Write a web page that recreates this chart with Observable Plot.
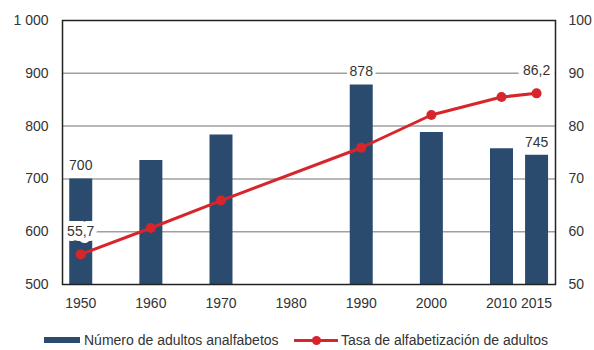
<!DOCTYPE html>
<html>
<head>
<meta charset="utf-8">
<script src="https://cdn.jsdelivr.net/npm/d3@7"></script>
<script src="https://cdn.jsdelivr.net/npm/@observablehq/plot@0.6"></script>
<style>
  body { margin: 0; background: #fff; font-family: "Liberation Sans", Arial, sans-serif; }
  #wrap { width: 594px; }
  #legend { position: relative; width: 594px; height: 35px; font-size: 14px; color: #333; }
  #legend .sw { position: absolute; }
  #legend .tx { position: absolute; top: 16px; line-height: 18px; white-space: nowrap; }
</style>
</head>
<body>
<div id="wrap">
  <div id="chart"></div>
  <div id="legend">
    <div class="sw" style="left:44px;top:22px;width:36px;height:6px;background:#2b4b6e"></div>
    <div class="tx" style="left:84px">Número de adultos analfabetos</div>
    <div class="sw" style="left:294px;top:23.5px;width:44px;height:3px;background:#d7262b"></div>
    <div class="sw" style="left:311.5px;top:20.5px;width:9px;height:9px;border-radius:50%;background:#d7262b"></div>
    <div class="tx" style="left:341px">Tasa de alfabetización de adultos</div>
  </div>
</div>
<script>
const tickYears = [1950, 1960, 1970, 1980, 1990, 2000, 2010, 2015];
const dataYears = [1950, 1960, 1970, 1990, 2000, 2010, 2015];
const illiterate = [700, 735, 783, 878, 788, 757, 745];   // millones
const literacyRate = [55.7, 60.7, 65.9, 75.9, 82.1, 85.5, 86.2]; // %
const leftTicks = [500, 600, 700, 800, 900, 1000];
const gridValues = [600, 700, 800, 900];
const barLabelYears = [1950, 1990, 2015];
const rateLabelYears = [1950, 2015];

const bars = dataYears.map((year, i) => ({year, value: illiterate[i]}));
const rates = dataYears.map((year, i) => ({year, rate: literacyRate[i], scaled: literacyRate[i] * 10}));
const barLabels = bars.filter(d => barLabelYears.includes(d.year));
const rateLabels = rates.filter(d => rateLabelYears.includes(d.year));

const barColor = "#2b4b6e";
const red = "#d7262b";
const txt = "#333";
const fmtLeft = d => d >= 1000 ? d3.format(",")(d).replace(",", " ") : String(d);
const fmtComma = d => String(d).replace(".", ",");

const chart = Plot.plot({
  width: 594,
  height: 315,
  marginTop: 20,
  marginBottom: 31,
  marginLeft: 62,
  marginRight: 39,
  style: {fontFamily: "'Liberation Sans', Arial, sans-serif", fontSize: "14px", color: txt, background: "#fff"},
  x: {type: "linear", domain: [1947.4, 2017.7], label: null},
  y: {domain: [500, 1000], label: null},
  marks: [
    Plot.ruleY(gridValues, {stroke: "#a0a0a0", strokeWidth: 1.5}),
    Plot.ruleX(bars, {x: "year", y1: 500, y2: "value", stroke: barColor, strokeWidth: 23}),
    Plot.line(rates, {x: "year", y: "scaled", stroke: red, strokeWidth: 3}),
    Plot.dot(rates, {x: "year", y: "scaled", r: 5, fill: red}),
    Plot.axisX(tickYears, {tickSize: 0, tickPadding: 14, tickFormat: d => String(d), fill: txt, fontSize: 14, label: null}),
    Plot.axisY(leftTicks, {anchor: "left", tickSize: 0, tickPadding: 14, tickFormat: fmtLeft, fill: txt, fontSize: 14, label: null}),
    Plot.axisY(leftTicks, {anchor: "right", tickSize: 0, tickPadding: 13, tickFormat: d => String(d / 10), fill: txt, fontSize: 14, label: null}),
    Plot.text(barLabels, {x: "year", y: "value", text: d => String(d.value), dy: -13, fill: txt, fontSize: 14, stroke: "white", strokeWidth: 6, paintOrder: "stroke"}),
    Plot.text(rateLabels, {x: "year", y: "scaled", text: d => fmtComma(d.rate), dy: -23, fill: txt, fontSize: 14, stroke: "white", strokeWidth: 10, strokeLinejoin: "round", paintOrder: "stroke"}),
    Plot.frame({stroke: "#222", strokeWidth: 1.5})
  ]
});
document.getElementById("chart").appendChild(chart);
</script>
</body>
</html>
